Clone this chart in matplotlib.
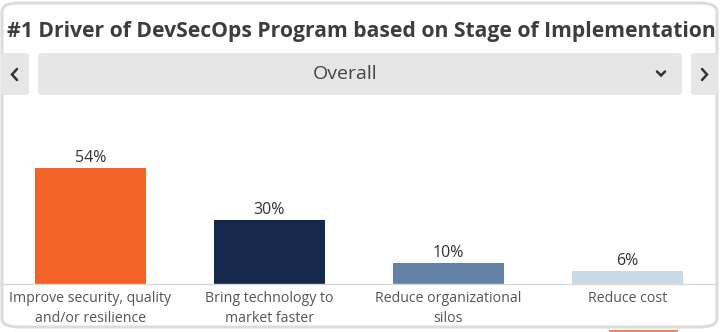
import matplotlib
matplotlib.use('Agg')
import matplotlib.pyplot as plt
from matplotlib.patches import FancyBboxPatch, Rectangle
from matplotlib.lines import Line2D

# Survey results: share of respondents naming each as the #1 driver
drivers = ["Improve security, quality\nand/or resilience",
           "Bring technology to\nmarket faster",
           "Reduce organizational\nsilos",
           "Reduce cost"]
shares = [54, 30, 10, 6]
bar_colors = ["#f26125", "#14284b", "#6283a6", "#c8dae8"]

title = "#1 Driver of DevSecOps Program based on Stage of Implementation"
selection = "Overall"

W, H = 725, 332
fig = plt.figure(figsize=(W / 100, H / 100), dpi=100)
plt.rcParams['font.family'] = ['Open Sans', 'DejaVu Sans']


def px(x, y):
    # pixel coords (origin top-left) -> figure fraction
    return x / W, 1 - y / H


def chevron(points):
    xs, ys = zip(*[px(a, b) for a, b in points])
    fig.lines.append(Line2D(xs, ys, transform=fig.transFigure, color="#333333",
                            linewidth=1.8, solid_capstyle="round",
                            solid_joinstyle="miter"))


# card outline
card = FancyBboxPatch(px(2, 327), 715 / W, 324 / H,
                      boxstyle="round,pad=0,rounding_size=0.025",
                      transform=fig.transFigure, facecolor="white",
                      edgecolor="#dcdcdc", linewidth=2.2, zorder=-1)
fig.patches.append(card)
# edge of the next card peeking in below
fig.patches.append(Rectangle(px(609, 332), 69 / W, 2 / H, transform=fig.transFigure,
                             facecolor="#ea8a60", edgecolor="none", zorder=-1))

fig.text(*px(361, 31), title, ha="center", va="center",
         fontsize=15.2, fontweight="bold", color="#3d3d3d")

# selector bar with prev/next buttons
for x0, w in [(1, 28), (38, 644), (691, 27)]:
    box = FancyBboxPatch(px(x0, 95), w / W, 42 / H,
                         boxstyle="round,pad=0,rounding_size=0.008",
                         transform=fig.transFigure, facecolor="#e6e6e6",
                         edgecolor="none", zorder=-1)
    fig.patches.append(box)
fig.text(*px(345, 74), selection, ha="center", va="center",
         fontsize=14, color="#444444")
chevron([(17, 69), (12, 74.5), (17, 80)])
chevron([(702, 69), (707, 74.5), (702, 80)])
chevron([(657, 71.5), (661, 75.5), (665, 71.5)])

ax = fig.add_axes([1 / W, 48 / H, 716 / W, 174 / H])
ax.set_facecolor("none")
x = range(len(drivers))
bars = ax.bar(x, shares, width=0.62, color=bar_colors)
for b, v in zip(bars, shares):
    ax.text(b.get_x() + b.get_width() / 2, v + 0.8, f"{v}%",
            ha="center", va="bottom", fontsize=11.5, color="#333333")

ax.set_xlim(-0.5, len(drivers) - 0.5)
ax.set_ylim(0, 81)
ax.set_xticks(list(x))
ax.set_xticklabels(drivers, fontsize=10.2, color="#555555", linespacing=1.5)
ax.tick_params(axis="x", length=0, pad=5)
ax.set_yticks([])
for side in ["top", "left", "right"]:
    ax.spines[side].set_visible(False)
ax.spines["bottom"].set_color("#d9d9d9")
ax.spines["bottom"].set_linewidth(1)

fig.savefig("out.png", dpi=100)
